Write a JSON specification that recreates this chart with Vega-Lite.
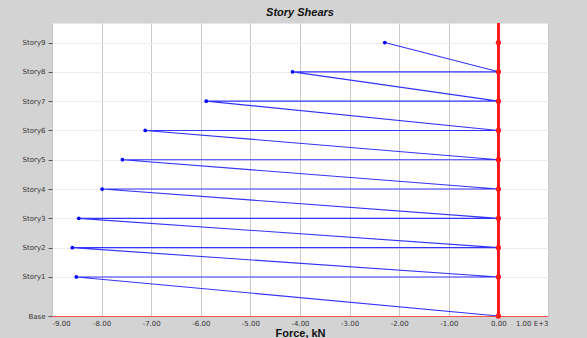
{
  "$schema": "https://vega.github.io/schema/vega-lite/v6.json",
  "autosize": {"type": "none"},
  "width": 496,
  "height": 293,
  "padding": {"left": 52, "top": 23, "right": 39, "bottom": 22},
  "background": "#d3d3d3",
  "title": {"text": "Story Shears", "font": "Liberation Sans", "fontSize": 11, "fontWeight": "bold", "fontStyle": "italic", "color": "#111111", "anchor": "middle", "offset": 4},
  "config": {
    "view": {"fill": "white", "stroke": "#e6e6e6"},
    "axis": {"labelFont": "DejaVu Sans", "titleFont": "Liberation Sans", "labelColor": "#333333"}
  },
  "datasets": {
    "path": [
      {"order": 0, "force": -2.29, "elev": 28},
      {"order": 1, "force": 0, "elev": 25},
      {"order": 2, "force": -4.15, "elev": 25},
      {"order": 3, "force": 0, "elev": 22},
      {"order": 4, "force": -5.89, "elev": 22},
      {"order": 5, "force": 0, "elev": 19},
      {"order": 6, "force": -7.12, "elev": 19},
      {"order": 7, "force": 0, "elev": 16},
      {"order": 8, "force": -7.58, "elev": 16},
      {"order": 9, "force": 0, "elev": 13},
      {"order": 10, "force": -7.99, "elev": 13},
      {"order": 11, "force": 0, "elev": 10},
      {"order": 12, "force": -8.46, "elev": 10},
      {"order": 13, "force": 0, "elev": 7},
      {"order": 14, "force": -8.59, "elev": 7},
      {"order": 15, "force": 0, "elev": 4},
      {"order": 16, "force": -8.51, "elev": 4},
      {"order": 17, "force": 0, "elev": 0}
    ],
    "stories": [
      {"story": "Base", "elev": 0},
      {"story": "Story1", "elev": 4},
      {"story": "Story2", "elev": 7},
      {"story": "Story3", "elev": 10},
      {"story": "Story4", "elev": 13},
      {"story": "Story5", "elev": 16},
      {"story": "Story6", "elev": 19},
      {"story": "Story7", "elev": 22},
      {"story": "Story8", "elev": 25},
      {"story": "Story9", "elev": 28}
    ]
  },
  "encoding": {
    "x": {
      "type": "quantitative",
      "scale": {"domain": [-9, 1], "nice": false, "zero": false},
      "axis": {
        "values": [-9, -8, -7, -6, -5, -4, -3, -2, -1, 0, 1],
        "labelExpr": "datum.value == 1 ? '1.00 E+3' : replace(format(datum.value, '.2f'), '\u2212', '-')",
        "title": "Force, kN",
        "titleFontSize": 11,
        "titleFontWeight": "bold",
        "titleColor": "#111111",
        "titlePadding": 1,
        "labelFontSize": 7,
        "labelPadding": 3,
        "domainColor": "#ff5050",
        "domainWidth": 1,
        "ticks": false,
        "gridColor": "#c8c8c8",
        "gridWidth": 1
      }
    },
    "y": {
      "type": "quantitative",
      "scale": {"domain": [0, 30], "nice": false},
      "axis": {
        "values": [0, 4, 7, 10, 13, 16, 19, 22, 25, 28],
        "labelExpr": "datum.value == 0 ? 'Base' : 'Story' + ((datum.value - 1) / 3)",
        "title": null,
        "labelFontSize": 7,
        "labelPadding": 3,
        "tickSize": 4,
        "tickColor": "#555555",
        "domain": false,
        "gridColor": "#ececec",
        "gridWidth": 1
      }
    }
  },
  "layer": [
    {
      "data": {"name": "path"},
      "mark": {"type": "line", "color": "#3333ff", "strokeWidth": 1.1, "opacity": 1},
      "encoding": {
        "x": {"field": "force", "type": "quantitative"},
        "y": {"field": "elev", "type": "quantitative"},
        "order": {"field": "order", "type": "quantitative"}
      }
    },
    {
      "data": {"name": "path"},
      "transform": [{"filter": "datum.force < 0"}],
      "mark": {"type": "circle", "color": "#0000ff", "size": 14, "opacity": 1},
      "encoding": {
        "x": {"field": "force", "type": "quantitative"},
        "y": {"field": "elev", "type": "quantitative"}
      }
    },
    {
      "data": {"name": "stories"},
      "mark": {"type": "rule", "color": "#ff1a1a", "strokeWidth": 1.8},
      "encoding": {
        "x": {"datum": 0, "type": "quantitative"}
      }
    },
    {
      "data": {"name": "stories"},
      "mark": {"type": "circle", "color": "#ff1a1a", "size": 28, "opacity": 1},
      "encoding": {
        "x": {"datum": 0, "type": "quantitative"},
        "y": {"field": "elev", "type": "quantitative"}
      }
    }
  ]
}
